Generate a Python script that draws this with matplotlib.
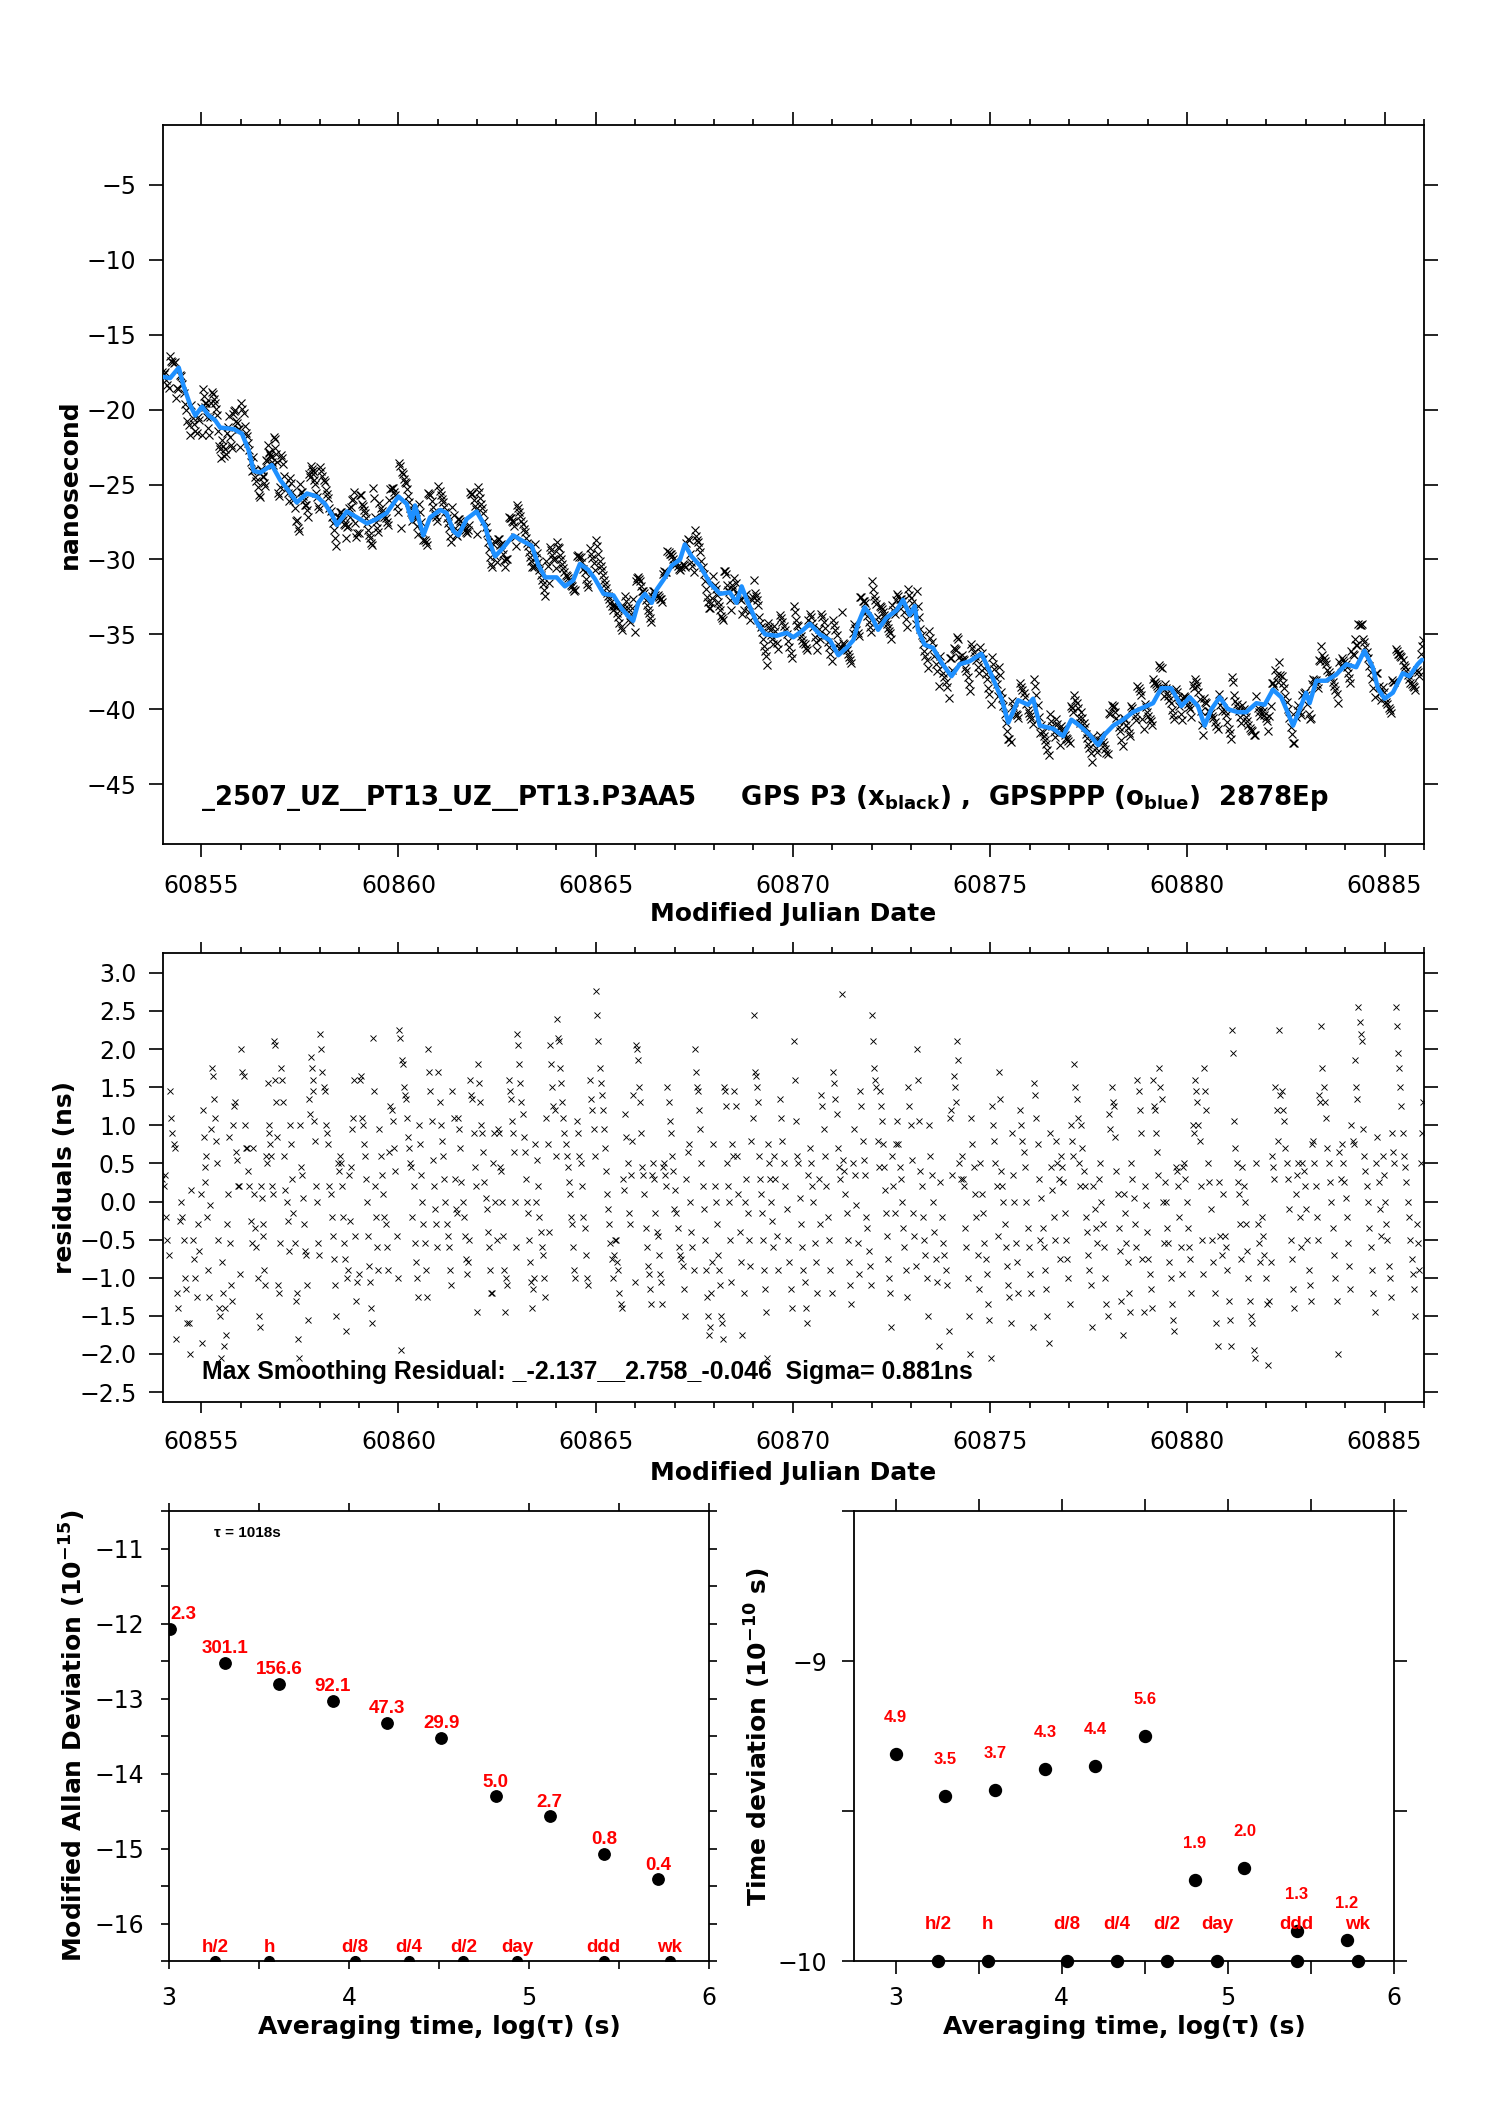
import numpy as np
import matplotlib
matplotlib.use('Agg')
import matplotlib.pyplot as plt
from matplotlib.ticker import MultipleLocator, FuncFormatter

plt.rcParams['font.family'] = ['DejaVu Sans']
plt.rcParams['mathtext.fontset'] = 'dejavusans'
plt.rcParams['axes.linewidth'] = 1.3

# ---------------- data ----------------
# smoothed GPSPPP curve (blue), MJD / ns
blue_t = [60854.0, 60854.21, 60854.43, 60854.55, 60854.72, 60854.85, 60855.02, 60855.19, 60855.35, 60855.48,
          60855.82, 60856.03, 60856.2, 60856.33, 60856.5, 60856.79, 60857.0, 60857.21, 60857.42, 60857.68,
          60857.93, 60858.14, 60858.31, 60858.44, 60858.69, 60858.95, 60859.2, 60859.45, 60859.7, 60860.0,
          60860.21, 60860.34, 60860.42, 60860.63, 60860.8, 60861.06, 60861.22, 60861.39, 60861.52, 60861.73,
          60861.98, 60862.2, 60862.3, 60862.45, 60862.66, 60862.91, 60863.17, 60863.38, 60863.55, 60863.72,
          60864.01, 60864.22, 60864.43, 60864.6, 60864.81, 60864.98, 60865.2, 60865.45, 60865.66, 60865.83,
          60865.95, 60866.08, 60866.25, 60866.42, 60866.55, 60866.76, 60866.93, 60867.14, 60867.26, 60867.43,
          60867.64, 60867.9, 60868.15, 60868.4, 60868.57, 60868.7, 60868.83, 60869.08, 60869.29, 60869.59,
          60869.84, 60870.01, 60870.22, 60870.43, 60870.68, 60870.94, 60871.15, 60871.36, 60871.53, 60871.65,
          60871.82, 60871.99, 60872.16, 60872.37, 60872.63, 60872.79, 60872.96, 60873.09, 60873.17, 60873.34,
          60873.55, 60873.77, 60874.02, 60874.23, 60874.48, 60874.78, 60875.03, 60875.29, 60875.46, 60875.71,
          60875.96, 60876.09, 60876.26, 60876.6, 60876.85, 60877.06, 60877.27, 60877.52, 60877.74, 60877.9,
          60878.12, 60878.37, 60878.62, 60878.87, 60879.13, 60879.34, 60879.59, 60879.85, 60880.06, 60880.27,
          60880.44, 60880.61, 60880.82, 60881.03, 60881.28, 60881.49, 60881.75, 60881.96, 60882.17, 60882.38,
          60882.51, 60882.68, 60882.85, 60883.01, 60883.1, 60883.27, 60883.52, 60883.77, 60884.03, 60884.28,
          60884.49, 60884.7, 60884.83, 60885.0, 60885.21, 60885.46, 60885.63, 60885.84, 60885.95]
blue_v = [-17.8, -17.9, -17.2, -18.4, -19.7, -20.4, -19.8, -20.4, -20.7, -21.2,
          -21.3, -21.6, -22.7, -24.1, -24.2, -23.7, -24.7, -25.4, -26.2, -25.6,
          -25.8, -26.3, -27.0, -27.7, -26.8, -27.2, -27.6, -27.3, -26.9, -25.8,
          -26.3, -27.4, -26.4, -28.4, -27.2, -26.7, -26.9, -28.1, -28.4, -27.3,
          -26.8, -27.8, -28.8, -29.8, -29.2, -28.4, -28.8, -29.1, -30.4, -31.2,
          -31.2, -31.8, -31.4, -30.3, -30.7, -31.3, -32.3, -32.4, -33.3, -33.8,
          -34.1, -32.9, -32.3, -32.9, -32.0, -31.2, -30.4, -30.0, -29.0, -29.8,
          -30.4, -31.6, -32.3, -32.2, -32.9, -31.8, -32.7, -34.2, -35.0, -35.1,
          -34.9, -35.2, -34.8, -34.3, -35.0, -35.4, -36.4, -35.9, -35.4, -34.3,
          -33.2, -33.8, -34.7, -33.9, -33.4, -32.7, -33.7, -33.1, -34.7, -35.7,
          -35.9, -36.9, -37.8, -37.0, -36.8, -36.3, -37.7, -39.3, -40.9, -39.4,
          -39.7, -39.3, -41.1, -41.3, -41.8, -40.7, -41.1, -41.7, -42.4, -41.7,
          -41.1, -40.7, -40.2, -39.9, -39.6, -38.6, -38.6, -39.8, -39.2, -39.8,
          -41.1, -40.0, -39.2, -40.0, -40.2, -40.2, -39.6, -39.7, -38.7, -39.2,
          -40.0, -41.1, -40.0, -38.9, -39.6, -38.1, -38.1, -37.7, -37.0, -37.2,
          -36.1, -37.2, -38.6, -39.3, -38.9, -37.6, -37.8, -37.0, -36.7]

# residuals (ns) of GPS P3 w.r.t. the smoothing, per half day starting at MJD 60854.0
resid_halfday = [
    [0.3, 0.2, 0.35, -0.2, -0.5, -0.7, 1.45, 1.1, 0.9, 0.75, 0.7, -1.8, -1.2, -1.4, -0.25, 0.0],
    [-0.2, -0.5, -1.0, -1.15, -1.6, -1.6, -2.0, 0.15, -0.5, -0.75, -1.0, -1.25, -0.3, -0.65, 0.1],
    [-1.85, 1.2, 0.85, 0.45, 0.25, 0.6, -0.2, -0.9, -1.25, -0.05, 0.95, 1.75, 1.65, 1.35, 1.1, 0.8, 0.5, -0.5, -1.4, -1.5, -2.05],
    [-0.8, -1.2, -1.9, -1.4, -1.75, -0.3, 0.1, 0.85, -0.55, -1.1, -1.3, 1.0, 1.25, 1.3, 0.65, 0.55, 0.2, 0.2, -0.95],
    [2.0, 1.7, 1.65, 1.0, 0.7, 0.7, 0.4, 0.2, -0.25, -0.55, 0.7, 0.1, -0.35, -0.6, -1.0, -1.5, -1.65],
    [0.2, 0.05, -0.3, -0.45, -0.9, -1.1, 0.6, 0.5, 1.55, 1.0, 0.9, 0.75, 0.6, 0.2, 0.1, 2.1, 2.05, 1.6, 1.3, 0.85, -1.1, -1.2, -0.55],
    [1.75, 1.6, 1.3, 0.6, 0.15, 0.0, -0.25, -0.65, 1.0, 0.75, 0.3, -0.15, -0.55, -1.3, -1.2, -1.8, -2.05],
    [1.0, 0.45, 0.35, 0.05, -0.3, -0.65, -0.7, -1.1, -1.55, 1.35, 1.15, 1.9, 1.75, 1.6, 1.45, 1.05, 0.8, 0.2, 0.0, -0.55, -0.7],
    [2.2, 2.0, 1.7, 1.5, 1.45, 1.0, 0.9, 0.75, 0.2, 0.1, -0.2, -0.45, -0.75, -1.1, -1.5, 0.5, 0.4],
    [0.6, 0.5, 0.2, -0.2, -0.55, -0.75, -1.7, -1.0, -0.9, 0.35, -0.25, 0.45, 0.95, 1.1, 1.6, -0.45, -1.3, -1.05, -0.95],
    [1.6, 1.65, 1.1, 1.0, 0.75, 0.6, 0.3, 0.0, -0.45, -0.85, -1.05, -1.4, -1.6, 2.15, 1.45, 0.2, -0.2, -0.6, -0.9],
    [0.95, 0.6, 0.35, 0.1, -0.2, -0.3, -0.6, -0.9, 0.65, 1.25, 1.2, 1.05, 0.7, 0.4, -0.45, -1.0],
    [2.25, 2.15, -1.95, 1.85, 1.8, 1.5, 1.4, 1.35, 1.1, 0.85, 0.7, 0.5, 0.45, -0.2, 0.2, -0.55, -0.8, -1.0, -1.25],
    [1.0, 0.75, 0.35, 0.0, -0.3, -0.55, -0.9, -1.25, 2.0, 1.7, 1.45, 1.05, 0.55, 0.2, -0.1, -0.3, -0.6],
    [1.7, 1.3, 1.0, 0.8, 0.6, 0.3, 0.0, -0.3, -0.45, -0.6, -0.9, -1.1, 1.45, 1.1, 0.3, -0.1, -0.15],
    [1.1, 0.95, 0.7, 0.25, 0.0, -0.2, -0.45, -0.75, -0.95, -0.8, -0.5, 1.6, 1.4, 1.35, 0.9, 0.45, 0.2, -1.45],
    [1.8, 1.55, 1.3, 1.0, 0.9, 0.65, 0.25, 0.05, -0.1, -0.4, -0.6, -0.9, -1.2, -1.2, 0.5, 0.9, 0.0, -0.5],
    [0.95, 0.9, 0.45, 0.4, 0.0, -0.45, -0.9, -1.45, -1.0, -1.1, 1.6, 1.45, 1.35, 1.05, 0.9, 0.65, 0.0, -0.6],
    [2.2, 2.05, 1.8, 1.55, 1.3, 1.15, 0.85, 0.65, 0.3, 0.0, -0.15, -0.5, -0.8, -1.05, -1.4, -1.15, -1.0, 0.75, 0.0],
    [0.55, 0.2, -0.2, -0.4, -0.6, -0.7, -1.0, -1.25, 1.1, 0.75, -0.4, 2.05, 1.8, 1.5, 1.25, 1.2, 0.6],
    [2.4, 2.15, 2.1, 1.75, 1.55, 1.3, 1.1, 0.9, 0.75, 0.6, 0.45, 0.25, 0.1, -0.2, -0.3, -0.6, -0.9, -1.0],
    [1.05, 0.9, 0.6, 0.5, 0.2, -0.2, -0.35, -0.7, -1.0, -1.1, 1.6, 1.35, 1.2, 0.95, 0.6],
    [2.76, 2.45, 2.1, 1.75, 1.55, 1.4, 1.2, 0.95, 0.7, 0.4, 0.1, -0.1, -0.3, -0.55, -0.75, -1.0, -0.7, -0.5],
    [-0.5, -0.8, -0.9, -1.2, -1.35, -1.4, 0.3, 0.15, 1.15, 0.85, 0.5, -0.15, -0.3, 0.35, 0.8, 1.4, -1.05],
    [2.05, 2.0, 1.85, 1.5, 1.3, 0.9, 0.45, 0.35, 0.1, -0.35, -0.6, -0.85, -0.95, -1.15, -1.35, 0.35, 0.5, 0.3],
    [-0.15, -0.4, -0.45, -0.7, -0.95, -1.05, -1.35, 0.45, 0.5, 0.35, 0.2, 1.5, 1.3, 1.05, 0.9, 0.6, 0.4, -0.1],
    [0.15, -0.15, -0.35, -0.6, -0.7, -0.75, -0.85, -1.15, -1.5, 0.3, 0.65, 0.75, 0.0, -0.4, -0.6, -0.9],
    [2.0, 1.7, 1.5, 1.45, 1.2, 0.95, 0.5, 0.2, -0.1, -0.5, -0.9, -1.25, -1.5, -1.75, -1.65, -1.2, -0.8, 0.75],
    [0.2, 0.0, -0.3, -0.7, -0.9, -1.1, -1.5, -1.6, -1.8, 1.5, 1.45, 1.25, 0.5, 0.2, 0.0, -0.5, -1.05, 0.75, 0.6],
    [1.45, 1.25, 0.6, 0.1, -0.4, -0.8, -1.75, -1.2, 0.0, 0.3, -0.15, -0.5, -0.85, 0.8, 1.1],
    [2.45, 1.7, 1.65, 1.5, 1.3, 0.6, 0.3, 0.1, -0.15, -0.5, -0.9, -1.15, -1.45, -2.05, 0.75, 0.5, 0.3, 0.0, -0.25, -0.6],
    [0.6, 0.3, -0.45, -0.9, 1.35, 1.1, 0.8, 0.5, 0.2, -0.1, -0.5, -0.8, -1.15, -1.4],
    [2.1, 1.6, 1.05, 0.6, 0.5, 0.05, -0.3, -0.6, -0.9, -1.05, -1.4, -1.6, 0.35, 0.7, 0.5, 0.2],
    [0.0, -0.55, -0.8, -1.2, 0.3, -0.3, 1.4, 1.25, 0.95, 0.6, 0.2, -0.2, -0.5, -0.9, -1.2],
    [1.7, 1.55, 1.35, 1.15, 0.7, 0.45, 0.3, 2.72, 0.55, 0.4, 0.1, -0.15, -0.5, -0.8, -1.1, -1.35],
    [0.5, 0.95, 0.35, -0.05, -0.55, -0.95, 1.45, 1.25, 0.8, 0.55, 0.35, -0.2, -0.35, -0.65, -0.85, -1.1],
    [2.45, 2.1, 1.75, 1.6, 1.5, 0.8, 0.45, 1.45, 1.25, 1.05, 0.75, 0.45, 0.15, -0.15, -0.45, -0.75, -1.0, -1.2, -1.65],
    [0.6, 0.2, -0.15, 0.75, 1.05, 0.75, 0.45, 0.3, 0.0, -0.35, -0.6, -0.9, -1.25, 1.5, 1.25, 1.0],
    [0.55, -0.15, -0.45, -0.85, 2.0, 1.6, 1.05, 0.4, 0.2, -0.2, -0.5, -0.7, -1.0, -1.5, 1.0, 0.6],
    [0.35, 0.0, -0.4, -0.75, -1.05, -1.9, 0.25, -0.2, -0.55, -0.7, -0.9, -1.1, -1.7, 1.1],
    [1.2, 0.35, 1.65, 1.5, 1.3, 2.1, 1.85, 0.5, 0.3, 0.6, 0.3, 0.2, -0.35, -0.6, -1.0, -1.5, -2.0],
    [1.1, 0.75, 0.45, 0.1, -0.2, -0.7, -1.15, 0.5, 0.1, -0.15, -0.55, -0.75, -0.95, -1.35, -1.55],
    [-2.05, 1.25, 1.0, 0.8, 0.5, 0.2, -0.45, 1.7, 1.35, 0.4, 0.2, 0.0, -0.3, -0.6, -0.85, -1.1, -1.25],
    [-1.6, 0.9, 0.35, 0.0, -0.55, -0.8, -1.2, 1.2, 1.0, 0.8, 0.65, 0.45, 0.0, -0.35, -0.6],
    [-0.95, -1.2, -1.65, 1.55, 1.4, 1.1, 0.75, 0.3, -0.5, 0.05, -0.35, -0.6, -0.9, -1.15, -1.5, -1.85],
    [0.9, 0.45, 0.15, -0.2, -0.5, 0.8, 0.5, 0.3, -0.75, 0.6, 0.45, 0.25, -0.15, -0.5, -0.75, -1.0],
    [-1.35, 1.0, 0.8, 0.6, 1.8, 1.5, 1.35, 1.1, 0.5, 0.2, 1.0, 0.7, 0.4, 0.2, -0.2, -0.4, -0.7],
    [-0.9, -1.1, -1.65, 0.2, -0.1, -0.35, -0.55, 0.3, 0.5, 0.0, -0.3, -0.6, -1.0, -1.35, -1.5],
    [1.15, 0.95, 1.5, 1.3, 1.25, 0.85, 0.4, 0.1, -0.35, -0.65, -1.3, -1.75, 0.1, -0.15, -0.55, -0.8],
    [-1.2, -1.45, 0.5, 0.3, 0.05, -0.3, -0.6, 1.6, 1.45, 1.2, 0.9, -0.75, -1.45, 0.2, -0.05, -0.4],
    [-0.75, -0.95, -1.15, -1.4, 1.6, 1.25, 1.2, 0.9, 0.65, 0.35, 1.75, 1.5, 1.35, 0.0, -0.55, 0.25, 0.0, -0.35],
    [-0.55, -0.8, -1.0, -1.35, -1.55, -1.7, 0.45, 0.4, 0.2, -0.2, -0.6, -0.95, 0.45, 0.5, 0.3, 0.0],
    [-0.35, -0.6, -0.75, -1.2, 1.0, 0.9, 1.6, 1.45, 1.3, 1.0, 0.8, 0.2, -0.5, -0.95, 1.75, 1.45, 1.2],
    [0.5, 0.25, -0.1, -0.5, -0.8, -1.2, -1.6, -1.9, 0.25, -0.45, -0.7, 0.1, -0.45, -0.6],
    [-0.9, -1.3, -1.55, -1.9, 2.25, 1.95, 1.05, 0.7, 0.5, 0.25, 0.1, -0.3, -0.75, 0.45, 0.2, 0.0, -0.3],
    [-0.65, -1.0, -1.3, -1.5, -1.6, -1.95, -2.05, 0.5, -0.3, -0.55, -0.8, -0.2, -0.45, -0.7, -1.0],
    [-1.35, -2.15, -1.3, -0.8, 0.6, 0.45, 0.3, 1.5, 1.2, 0.8, 2.25, 1.4, 1.45, 1.2, 1.05, 0.7],
    [0.5, 0.3, -0.1, -0.5, -0.75, -1.15, -1.4, 0.1, 0.35, 0.5, -0.2, -0.6, 0.5, 0.4, 0.2],
    [-0.1, -0.5, -0.9, -1.1, -1.3, 0.75, 0.8, 0.5, 0.2, -0.2, -0.5, 1.4, 1.3, 2.3, 1.75, 1.5, 1.3],
    [1.1, 0.7, 0.5, 0.25, 0.0, -0.35, -0.7, -1.0, -1.3, -2.0, 0.65, 0.3, 0.75, 0.5, 0.25],
    [0.05, -0.2, -0.55, -0.85, -1.15, 1.0, 0.8, 0.75, 1.85, 1.5, 1.35, 2.55, 2.35, 2.2, 2.1, 0.95, 0.6],
    [0.4, 0.2, 0.0, -0.35, -0.6, -0.9, -1.2, -1.45, 0.5, 0.85, 0.25, -0.1, -0.45, 0.6, 0.35],
    [0.0, -0.3, -0.5, -0.85, -1.0, -1.25, 0.9, 0.65, 0.5, 2.55, 2.3, 1.95, 1.75, 1.5, 1.25, 0.9, 0.6],
    [0.45, 0.25, 0.0, -0.2, -0.5, -0.75, -0.95, -1.15, -1.5, -0.3, -0.55, -0.9, 0.5, 0.9, 1.3],
]
resid_start_mjd = 60854.0

# Modified Allan deviation (log10) and time deviation (log10 s)
adev_logtau = [3.008, 3.309, 3.610, 3.911, 4.212, 4.513, 4.814, 5.115, 5.416, 5.717]
adev_log = [-12.07, -12.52, -12.80, -13.03, -13.32, -13.52, -14.30, -14.57, -15.07, -15.41]
adev_labels = ['2.3', '301.1', '156.6', '92.1', '47.3', '29.9', '5.0', '2.7', '0.8', '0.4']
tdev_logtau = [3.0, 3.30, 3.60, 3.90, 4.20, 4.50, 4.80, 5.10, 5.416, 5.717]
tdev_log = [-9.31, -9.45, -9.43, -9.36, -9.35, -9.25, -9.73, -9.69, -9.90, -9.93]
tdev_labels = ['4.9', '3.5', '3.7', '4.3', '4.4', '5.6', '1.9', '2.0', '1.3', '1.2']
mark_logtau = [3.255, 3.556, 4.033, 4.334, 4.635, 4.936, 5.414, 5.782]
mark_labels = ['h/2', 'h', 'd/8', 'd/4', 'd/2', 'day', 'ddd', 'wk']

title_text = (r'_2507_UZ__PT13_UZ__PT13.P3AA5     GPS P3 (x$_{\mathbf{black}}$) ,  '
              r'GPSPPP (o$_{\mathbf{blue}}$)  2878Ep')
resid_text = 'Max Smoothing Residual: _-2.137__2.758_-0.046  Sigma= 0.881ns'
tau_text = 'τ = 1018s'

# ---------------- derived epochs ----------------
res_t, res_v = [], []
for k, seg in enumerate(resid_halfday):
    n = len(seg)
    for i, v in enumerate(seg):
        res_t.append(resid_start_mjd + 0.5 * k + (i + 0.5) * 0.5 / n)
        res_v.append(v)
res_t = np.array(res_t)
res_v = np.array(res_v)
raw_v = np.interp(res_t, blue_t, blue_v) + res_v

# ---------------- figure ----------------
W, H = 1488, 2105
fig = plt.figure(figsize=(W / 100, H / 100), dpi=100)


def ax_px(l, t, r, b):
    return fig.add_axes([l / W, 1 - b / H, (r - l) / W, (b - t) / H])


def minus_fmt(fmt):
    def f(v, pos):
        s = fmt.format(v)
        if s.lstrip('-').strip('0.') == '':
            s = s.lstrip('-')
        return s.replace('-', '\u2212')
    return FuncFormatter(f)


TICK_FS = 17
LAB_FS = 18

# ---- top panel ----
ax1 = ax_px(163, 125, 1424, 844)
ax1.plot(res_t, raw_v, 'x', color='black', ms=5.3, mew=0.8, zorder=2)
ax1.plot(blue_t, blue_v, '-', color='#1E90FF', lw=3.2, zorder=3, solid_capstyle='round')
ax1.set_xlim(60854.03, 60886.0)
ax1.set_ylim(-49, -1)
ax1.set_yticks(np.arange(-45, -4, 5))
ax1.xaxis.set_major_locator(MultipleLocator(5))
ax1.xaxis.set_minor_locator(MultipleLocator(1))
ax1.xaxis.set_major_formatter(minus_fmt('{:.0f}'))
ax1.yaxis.set_major_formatter(minus_fmt('{:.0f}'))
ax1.tick_params(axis='both', which='both', direction='out', top=True, right=True, width=1.2,
                labelsize=TICK_FS)
ax1.tick_params(axis='x', which='major', length=9.5, pad=12)
ax1.tick_params(axis='x', which='minor', length=4.5)
ax1.tick_params(axis='y', which='major', length=10, pad=9)
ax1.set_ylabel('nanosecond', fontsize=LAB_FS, fontweight='bold')
ax1.yaxis.set_label_coords((82 - 163) / 1261, 0.5)
ax1.set_xlabel('Modified Julian Date', fontsize=LAB_FS, fontweight='bold')
ax1.xaxis.set_label_coords(0.5, (844 - 902) / 719)
ax1.text((201 - 163) / 1261, (844 - 798) / 719, title_text, transform=ax1.transAxes,
         fontsize=18.7, fontweight='bold', va='center', ha='left')

# ---- middle panel ----
ax2 = ax_px(163, 953, 1424, 1402)
ax2.plot(res_t, res_v, 'x', color='black', ms=4.6, mew=0.65)
ax2.set_xlim(60854.03, 60886.0)
ax2.set_ylim(-2.63, 3.26)
ax2.set_yticks(np.arange(-2.5, 3.01, 0.5))
ax2.xaxis.set_major_locator(MultipleLocator(5))
ax2.xaxis.set_minor_locator(MultipleLocator(1))
ax2.xaxis.set_major_formatter(minus_fmt('{:.0f}'))
ax2.yaxis.set_major_formatter(minus_fmt('{:.1f}'))
ax2.tick_params(axis='both', which='both', direction='out', top=True, right=True, width=1.2,
                labelsize=TICK_FS)
ax2.tick_params(axis='x', which='major', length=8, pad=12)
ax2.tick_params(axis='x', which='minor', length=4)
ax2.tick_params(axis='y', which='major', length=10, pad=9)
ax2.set_ylabel('residuals (ns)', fontsize=LAB_FS, fontweight='bold')
ax2.yaxis.set_label_coords((77 - 163) / 1261, 0.5)
ax2.set_xlabel('Modified Julian Date', fontsize=LAB_FS, fontweight='bold')
ax2.xaxis.set_label_coords(0.5, (1402 - 1461) / 449)
ax2.text((202 - 163) / 1261, (1402 - 1372) / 449, resid_text, transform=ax2.transAxes,
         fontsize=17.9, fontweight='bold', va='center', ha='left',
         family=['Liberation Sans Narrow', 'Liberation Sans', 'DejaVu Sans'])

RED_FONT = ['Liberation Sans', 'DejaVu Sans']

# ---- bottom-left: Modified Allan deviation ----
ax3 = ax_px(169, 1511, 709, 1961)
ax3.plot(adev_logtau, adev_log, 'o', color='black', ms=8.2)
ax3.plot(mark_logtau, [-16.5] * len(mark_logtau), 'o', color='black', ms=7)
ax3.set_xlim(3, 6)
ax3.set_ylim(-16.5, -10.5)
ax3.set_xticks([3, 4, 5, 6])
ax3.xaxis.set_minor_locator(MultipleLocator(0.5))
ax3.set_yticks(np.arange(-16, -10.9, 1))
ax3.yaxis.set_minor_locator(MultipleLocator(0.5))
ax3.xaxis.set_major_formatter(minus_fmt('{:.0f}'))
ax3.yaxis.set_major_formatter(minus_fmt('{:.0f}'))
ax3.tick_params(axis='both', which='both', direction='out', top=True, right=True, width=1.2,
                labelsize=TICK_FS, length=6)
ax3.tick_params(axis='x', which='major', pad=12)
ax3.tick_params(axis='y', which='major', pad=12)
for i, (x, y, s) in enumerate(zip(adev_logtau, adev_log, adev_labels)):
    ax3.annotate(s, (x, y), xytext=(0, 10), textcoords='offset points',
                 ha='left' if i == 0 else 'center', va='center', color='red',
                 fontsize=13.5, fontweight='bold', family=RED_FONT)
for x, s in zip(mark_logtau, mark_labels):
    ax3.annotate(s, (x, -16.5), xytext=(0, 10), textcoords='offset points',
                 ha='center', va='center', color='red', fontsize=13.5,
                 fontweight='bold', family=RED_FONT)
ax3.text((214 - 169) / 540, (1961 - 1533) / 450, tau_text, transform=ax3.transAxes,
         fontsize=11, fontweight='bold', va='center', ha='left',
         family=['Liberation Sans Narrow', 'Liberation Sans', 'DejaVu Sans'])
ax3.set_ylabel(r'Modified Allan Deviation (10$^{\mathbf{-15}}$)', fontsize=LAB_FS, fontweight='bold')
ax3.yaxis.set_label_coords((88 - 169) / 540, 0.5)
ax3.set_xlabel('Averaging time, log(τ) (s)', fontsize=LAB_FS, fontweight='bold')
ax3.xaxis.set_label_coords(0.5, (1961 - 2015) / 450)

# ---- bottom-right: time deviation ----
ax4 = ax_px(854, 1511, 1394, 1961)
ax4.plot(tdev_logtau, tdev_log, 'o', color='black', ms=8.6)
ax4.plot(mark_logtau, [-10] * len(mark_logtau), 'o', color='black', ms=8.6, clip_on=False)
ax4.set_xlim(2.75, 6)
ax4.set_ylim(-10, -8.5)
ax4.set_xticks([3, 4, 5, 6])
ax4.xaxis.set_minor_locator(MultipleLocator(0.5))
ax4.set_yticks([-10, -9])
ax4.yaxis.set_minor_locator(MultipleLocator(0.5))
ax4.xaxis.set_major_formatter(minus_fmt('{:.0f}'))
ax4.yaxis.set_major_formatter(minus_fmt('{:.0f}'))
ax4.tick_params(axis='both', which='both', direction='out', top=True, right=True, width=1.2,
                labelsize=TICK_FS, length=9)
ax4.tick_params(axis='x', which='major', pad=9)
ax4.tick_params(axis='y', which='major', pad=10)
for x, y, s in zip(tdev_logtau, tdev_log, tdev_labels):
    ax4.annotate(s, (x, y), xytext=(0, 26), textcoords='offset points',
                 ha='center', va='center', color='red', fontsize=12,
                 fontweight='bold', family=RED_FONT)
for x, s in zip(mark_logtau, mark_labels):
    ax4.annotate(s, (x, -10), xytext=(0, 26), textcoords='offset points',
                 ha='center', va='center', color='red', fontsize=13.5,
                 fontweight='bold', family=RED_FONT)
ax4.set_ylabel(r'Time deviation (10$^{\mathbf{-10}}$ s)', fontsize=LAB_FS, fontweight='bold')
ax4.yaxis.set_label_coords((773 - 854) / 540, 0.5)
ax4.set_xlabel('Averaging time, log(τ) (s)', fontsize=LAB_FS, fontweight='bold')
ax4.xaxis.set_label_coords(0.5, (1961 - 2015) / 450)

fig.savefig('out.png', dpi=100)
